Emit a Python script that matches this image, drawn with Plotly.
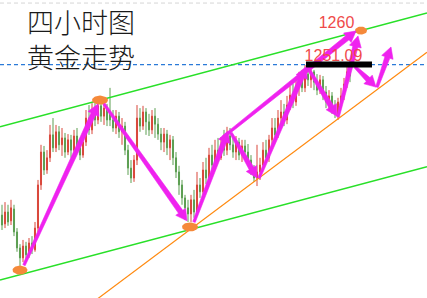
import math
import plotly.graph_objects as go

# 4-hour gold candles (price in USD/oz), one bar per 4h session
OPEN = [1211.7, 1209.4, 1212.5, 1210.2, 1213.3, 1207.3, 1203.1, 1200.5, 1203.6, 1201.3,
        1204.4, 1202.6, 1208.3, 1219.6, 1228.2, 1223.5, 1226.7, 1232.7, 1229.3, 1233.5,
        1230.1, 1231.9, 1228.2, 1231.4, 1228.7, 1232.4, 1229.3, 1227.4, 1230.8, 1237.1,
        1234.0, 1238.7, 1236.6, 1240.3, 1237.6, 1239.7, 1238.7, 1236.6, 1234.5, 1237.6,
        1233.5, 1235.0, 1228.7, 1224.0, 1221.4, 1226.1, 1237.1, 1235.0, 1238.7, 1236.1,
        1234.0, 1237.6, 1235.5, 1232.9, 1230.8, 1232.9, 1229.3, 1231.4, 1226.7, 1223.0,
        1219.6, 1216.2, 1213.6, 1212.0, 1215.7, 1212.5, 1219.6, 1217.8, 1223.5, 1221.4,
        1227.4, 1224.8, 1228.7, 1226.7, 1230.1, 1228.7, 1232.4, 1230.1, 1228.2, 1230.8,
        1227.4, 1229.8, 1228.2, 1226.1, 1223.5, 1221.4, 1223.0, 1224.8, 1228.7, 1226.7,
        1231.4, 1234.5, 1232.7, 1237.1, 1238.7, 1236.6, 1240.5, 1243.1, 1241.3, 1245.5,
        1247.1, 1245.0, 1248.6, 1247.1, 1249.2, 1246.5, 1244.4, 1247.1, 1243.9, 1241.3,
        1242.9, 1239.7, 1238.2, 1241.3, 1242.9, 1246.0, 1249.2]
CLOSE = [1209.1, 1212.5, 1209.9, 1213.6, 1207.3, 1203.1, 1200.5, 1203.6, 1201.3, 1204.4,
         1202.6, 1208.3, 1219.6, 1228.2, 1223.5, 1226.7, 1232.7, 1229.3, 1233.5, 1230.1,
         1231.9, 1228.2, 1231.4, 1228.7, 1232.4, 1229.3, 1227.4, 1230.8, 1237.1, 1234.0,
         1238.7, 1236.6, 1240.3, 1237.6, 1239.7, 1236.6, 1236.6, 1234.5, 1237.6, 1233.5,
         1235.0, 1228.7, 1224.0, 1221.4, 1226.1, 1237.1, 1235.0, 1238.7, 1236.1, 1234.0,
         1237.6, 1235.5, 1232.9, 1230.8, 1232.9, 1229.3, 1231.4, 1226.7, 1223.0, 1219.6,
         1216.2, 1213.6, 1212.0, 1215.7, 1212.5, 1219.6, 1217.8, 1223.5, 1221.4, 1227.4,
         1224.8, 1228.7, 1226.7, 1230.1, 1228.7, 1232.4, 1230.1, 1228.2, 1230.8, 1227.4,
         1229.8, 1228.2, 1226.1, 1223.5, 1221.4, 1223.0, 1224.8, 1228.7, 1226.7, 1231.4,
         1234.5, 1232.7, 1237.1, 1238.7, 1236.6, 1240.5, 1243.1, 1241.3, 1245.5, 1247.1,
         1245.0, 1248.6, 1247.1, 1249.2, 1246.5, 1244.4, 1247.1, 1243.9, 1241.3, 1242.9,
         1239.7, 1238.2, 1241.3, 1242.9, 1246.0, 1249.2, 1248.1]
HIGH = [1214.4, 1215.1, 1214.4, 1215.7, 1214.4, 1208.3, 1204.1, 1205.2, 1204.7, 1205.7,
        1206.2, 1209.9, 1220.9, 1230.1, 1229.8, 1228.7, 1235.3, 1237.1, 1235.3, 1235.0,
        1234.5, 1233.2, 1232.9, 1232.7, 1234.0, 1234.5, 1231.4, 1232.7, 1239.2, 1240.5,
        1241.0, 1241.8, 1242.4, 1241.8, 1241.3, 1240.8, 1245.0, 1239.2, 1239.2, 1238.7,
        1237.1, 1236.1, 1230.1, 1226.1, 1227.4, 1240.5, 1239.7, 1240.3, 1239.7, 1238.2,
        1239.2, 1239.7, 1237.1, 1234.5, 1234.5, 1234.0, 1232.7, 1232.4, 1228.2, 1224.6,
        1220.9, 1217.0, 1215.7, 1217.0, 1218.3, 1223.0, 1221.4, 1225.6, 1226.7, 1229.3,
        1230.1, 1231.4, 1231.9, 1232.1, 1234.0, 1234.8, 1234.5, 1231.9, 1232.4, 1231.9,
        1231.4, 1231.4, 1230.3, 1227.4, 1224.8, 1230.1, 1226.7, 1230.8, 1231.4, 1232.7,
        1237.1, 1237.1, 1239.2, 1241.8, 1240.8, 1242.9, 1245.5, 1246.0, 1247.6, 1249.2,
        1249.7, 1251.0, 1250.2, 1250.2, 1249.7, 1248.6, 1248.4, 1248.1, 1245.5, 1244.4,
        1243.9, 1241.8, 1242.4, 1245.0, 1247.6, 1251.0, 1251.3]
LOW = [1207.8, 1208.3, 1208.9, 1209.1, 1206.2, 1202.1, 1198.4, 1199.4, 1200.0, 1200.5,
       1201.5, 1202.1, 1207.3, 1218.3, 1222.2, 1222.5, 1225.6, 1228.2, 1228.2, 1228.7,
       1227.2, 1226.7, 1227.4, 1226.7, 1227.7, 1228.2, 1226.1, 1226.7, 1229.8, 1232.7,
       1232.9, 1235.0, 1235.5, 1236.1, 1235.3, 1235.0, 1235.0, 1233.5, 1232.9, 1231.9,
       1230.1, 1227.4, 1222.2, 1220.1, 1220.4, 1224.8, 1233.5, 1234.0, 1232.7, 1232.4,
       1232.9, 1231.9, 1231.4, 1228.7, 1228.2, 1227.4, 1226.1, 1224.8, 1221.4, 1217.0,
       1214.4, 1210.4, 1209.9, 1209.9, 1211.0, 1211.5, 1216.2, 1217.0, 1219.8, 1220.4,
       1223.0, 1224.0, 1225.6, 1226.1, 1227.2, 1227.4, 1228.7, 1226.7, 1226.1, 1226.1,
       1225.6, 1226.7, 1224.8, 1222.2, 1220.4, 1219.3, 1220.9, 1224.0, 1225.6, 1225.6,
       1230.1, 1231.4, 1231.9, 1235.3, 1235.0, 1235.5, 1239.2, 1239.7, 1240.3, 1242.9,
       1243.9, 1243.9, 1245.5, 1245.0, 1244.4, 1243.1, 1243.4, 1241.8, 1239.7, 1239.2,
       1238.2, 1237.1, 1236.6, 1239.7, 1241.8, 1245.0, 1246.5]
BARS = list(range(len(CLOSE)))

# Key levels
LEVEL_NOW = 1251.09
LEVEL_TARGET = 1260.0
LEVEL_TOP = 1267.2

# Swing points (bar, price) marked with orange ovals
SWINGS = [(6.0, 1197.3), (32.67, 1241.8), (62.67, 1208.6), (119.67, 1260.0)]
SWING_SIZE_PX = [(15, 9), (16, 9), (16, 9), (12, 8)]

# Trend lines: two anchor points each (bar, price)
UPPER_CHANNEL = [(32.67, 1241.8), (119.67, 1260.0)]
LOWER_CHANNEL = [(6.0, 1196.1), (62.67, 1207.9)]
SUPPORT_LINE = [(62.67, 1207.9), (111.67, 1236.7)]

# Projected path arrows: start (bar, price) -> end (bar, price)
PATH_ARROWS = [
    ((7.33, 1198.6), (32.0, 1240.8)),
    ((34.0, 1240.8), (61.67, 1210.2)),
    ((64.0, 1209.9), (75.33, 1233.7)),
    ((73.67, 1232.1), (118.0, 1259.9)),
    ((76.33, 1233.2), (85.0, 1221.4)),
    ((85.67, 1221.4), (101.33, 1250.5)),
    ((102.0, 1250.2), (111.67, 1237.6)),
    ((112.0, 1237.4), (118.67, 1258.6)),
    ((117.67, 1250.5), (124.67, 1245.2)),
    ((125.0, 1245.2), (129.67, 1255.7)),
]
NOW_BAR_SPAN = (101.33, 123.33)

W, H = 427, 298
X_RANGE = (-0.667, 141.667)
Y_RANGE = (1190.0, 1268.0)
SX = W / (X_RANGE[1] - X_RANGE[0])
SY = H / (Y_RANGE[1] - Y_RANGE[0])

MAGENTA = "#ef22ef"
ORANGE_FILL = "#f5893a"


def to_px(pt):
    return ((pt[0] - X_RANGE[0]) * SX, (Y_RANGE[1] - pt[1]) * SY)


def from_px(px, py):
    return (px / SX + X_RANGE[0], Y_RANGE[1] - py / SY)


def extend(line):
    (x0, y0), (x1, y1) = line
    k = (y1 - y0) / (x1 - x0)
    xs = [X_RANGE[0], X_RANGE[1]]
    return xs, [y0 + k * (x - x0) for x in xs]


def arrow_polygon(p0, p1, w0=2.6, w1=5.2, hl=11.0, hw=12.0):
    x0, y0 = to_px(p0)
    x1, y1 = to_px(p1)
    L = math.hypot(x1 - x0, y1 - y0)
    ux, uy = (x1 - x0) / L, (y1 - y0) / L
    nx, ny = -uy, ux
    kx, ky = x1 - ux * hl, y1 - uy * hl
    pts = [
        (x0 + nx * w0 / 2, y0 + ny * w0 / 2),
        (kx + nx * w1 / 2, ky + ny * w1 / 2),
        (kx + nx * hw / 2, ky + ny * hw / 2),
        (x1, y1),
        (kx - nx * hw / 2, ky - ny * hw / 2),
        (kx - nx * w1 / 2, ky - ny * w1 / 2),
        (x0 - nx * w0 / 2, y0 - ny * w0 / 2),
    ]
    pts.append(pts[0])
    data = [from_px(a, b) for a, b in pts]
    return [d[0] for d in data], [d[1] for d in data]


def oval(center, size):
    cx, cy = to_px(center)
    rx, ry = size[0] / 2, size[1] / 2
    xs, ys = [], []
    for k in range(41):
        t = 2 * math.pi * k / 40
        d = from_px(cx + rx * math.cos(t), cy + ry * math.sin(t))
        xs.append(d[0])
        ys.append(d[1])
    return xs, ys


fig = go.Figure()

fig.add_trace(go.Candlestick(
    x=BARS, open=OPEN, high=HIGH, low=LOW, close=CLOSE,
    increasing=dict(line=dict(color="#d9473b", width=1), fillcolor="#d9473b"),
    decreasing=dict(line=dict(color="#5c9f52", width=1), fillcolor="#5c9f52"),
    whiskerwidth=0, hoverinfo="skip",
))

# horizontal reference levels
fig.add_trace(go.Scatter(x=list(X_RANGE), y=[LEVEL_TOP, LEVEL_TOP], mode="lines",
                         line=dict(color="#d6d6d6", width=1, dash="4px,3px")))
fig.add_trace(go.Scatter(x=list(X_RANGE), y=[LEVEL_NOW, LEVEL_NOW], mode="lines",
                         line=dict(color="#2a7ad8", width=1.2, dash="4px,3px")))

# channel and support lines
for line, color, width in [(UPPER_CHANNEL, "#28e028", 1.6),
                           (LOWER_CHANNEL, "#28e028", 1.6),
                           (SUPPORT_LINE, "#ff8a10", 1.2)]:
    xs, ys = extend(line)
    fig.add_trace(go.Scatter(x=xs, y=ys, mode="lines", line=dict(color=color, width=width)))

# swing ovals
for c, s in zip(SWINGS, SWING_SIZE_PX):
    xs, ys = oval(c, s)
    fig.add_trace(go.Scatter(x=xs, y=ys, mode="lines", fill="toself",
                             fillcolor=ORANGE_FILL, line=dict(width=0)))

# projected path arrows
for a, b in PATH_ARROWS:
    xs, ys = arrow_polygon(a, b)
    fig.add_trace(go.Scatter(x=xs, y=ys, mode="lines", fill="toself",
                             fillcolor=MAGENTA, line=dict(width=0.6, color=MAGENTA)))

# price labels
label_font = dict(family="Liberation Sans Narrow, Arial Narrow, Liberation Sans, Arial",
                  size=16, color="#ef4a4a")
fig.add_trace(go.Scatter(x=[111.5], y=[1261.7], mode="text", text=[f"{LEVEL_TARGET:.0f}"],
                         textposition="middle center", textfont=label_font))
fig.add_trace(go.Scatter(x=[110.5], y=[1253.0], mode="text", text=[f"{LEVEL_NOW:.2f}"],
                         textposition="middle center", textfont=label_font))

# current price marker bar
fig.add_trace(go.Scatter(x=list(NOW_BAR_SPAN), y=[LEVEL_NOW, LEVEL_NOW], mode="lines",
                         line=dict(color="#000000", width=6)))

fig.add_annotation(
    xref="paper", yref="paper", x=25 / W, y=1 - 39 / H, xanchor="left", yanchor="middle",
    text="四小时图<br>黄金走势", showarrow=False, align="left",
    font=dict(family="Noto Sans CJK SC", size=27, color="#1a1a1a", weight=300),
)

fig.update_layout(
    width=W, height=H, margin=dict(l=0, r=0, t=0, b=0, pad=0),
    paper_bgcolor="white", plot_bgcolor="white", showlegend=False,
    boxgap=0.5, hovermode=False,
    xaxis=dict(range=list(X_RANGE), visible=False, rangeslider=dict(visible=False), fixedrange=True),
    yaxis=dict(range=list(Y_RANGE), visible=False, fixedrange=True),
)

fig.write_html("out.html", config={"displayModeBar": False})
